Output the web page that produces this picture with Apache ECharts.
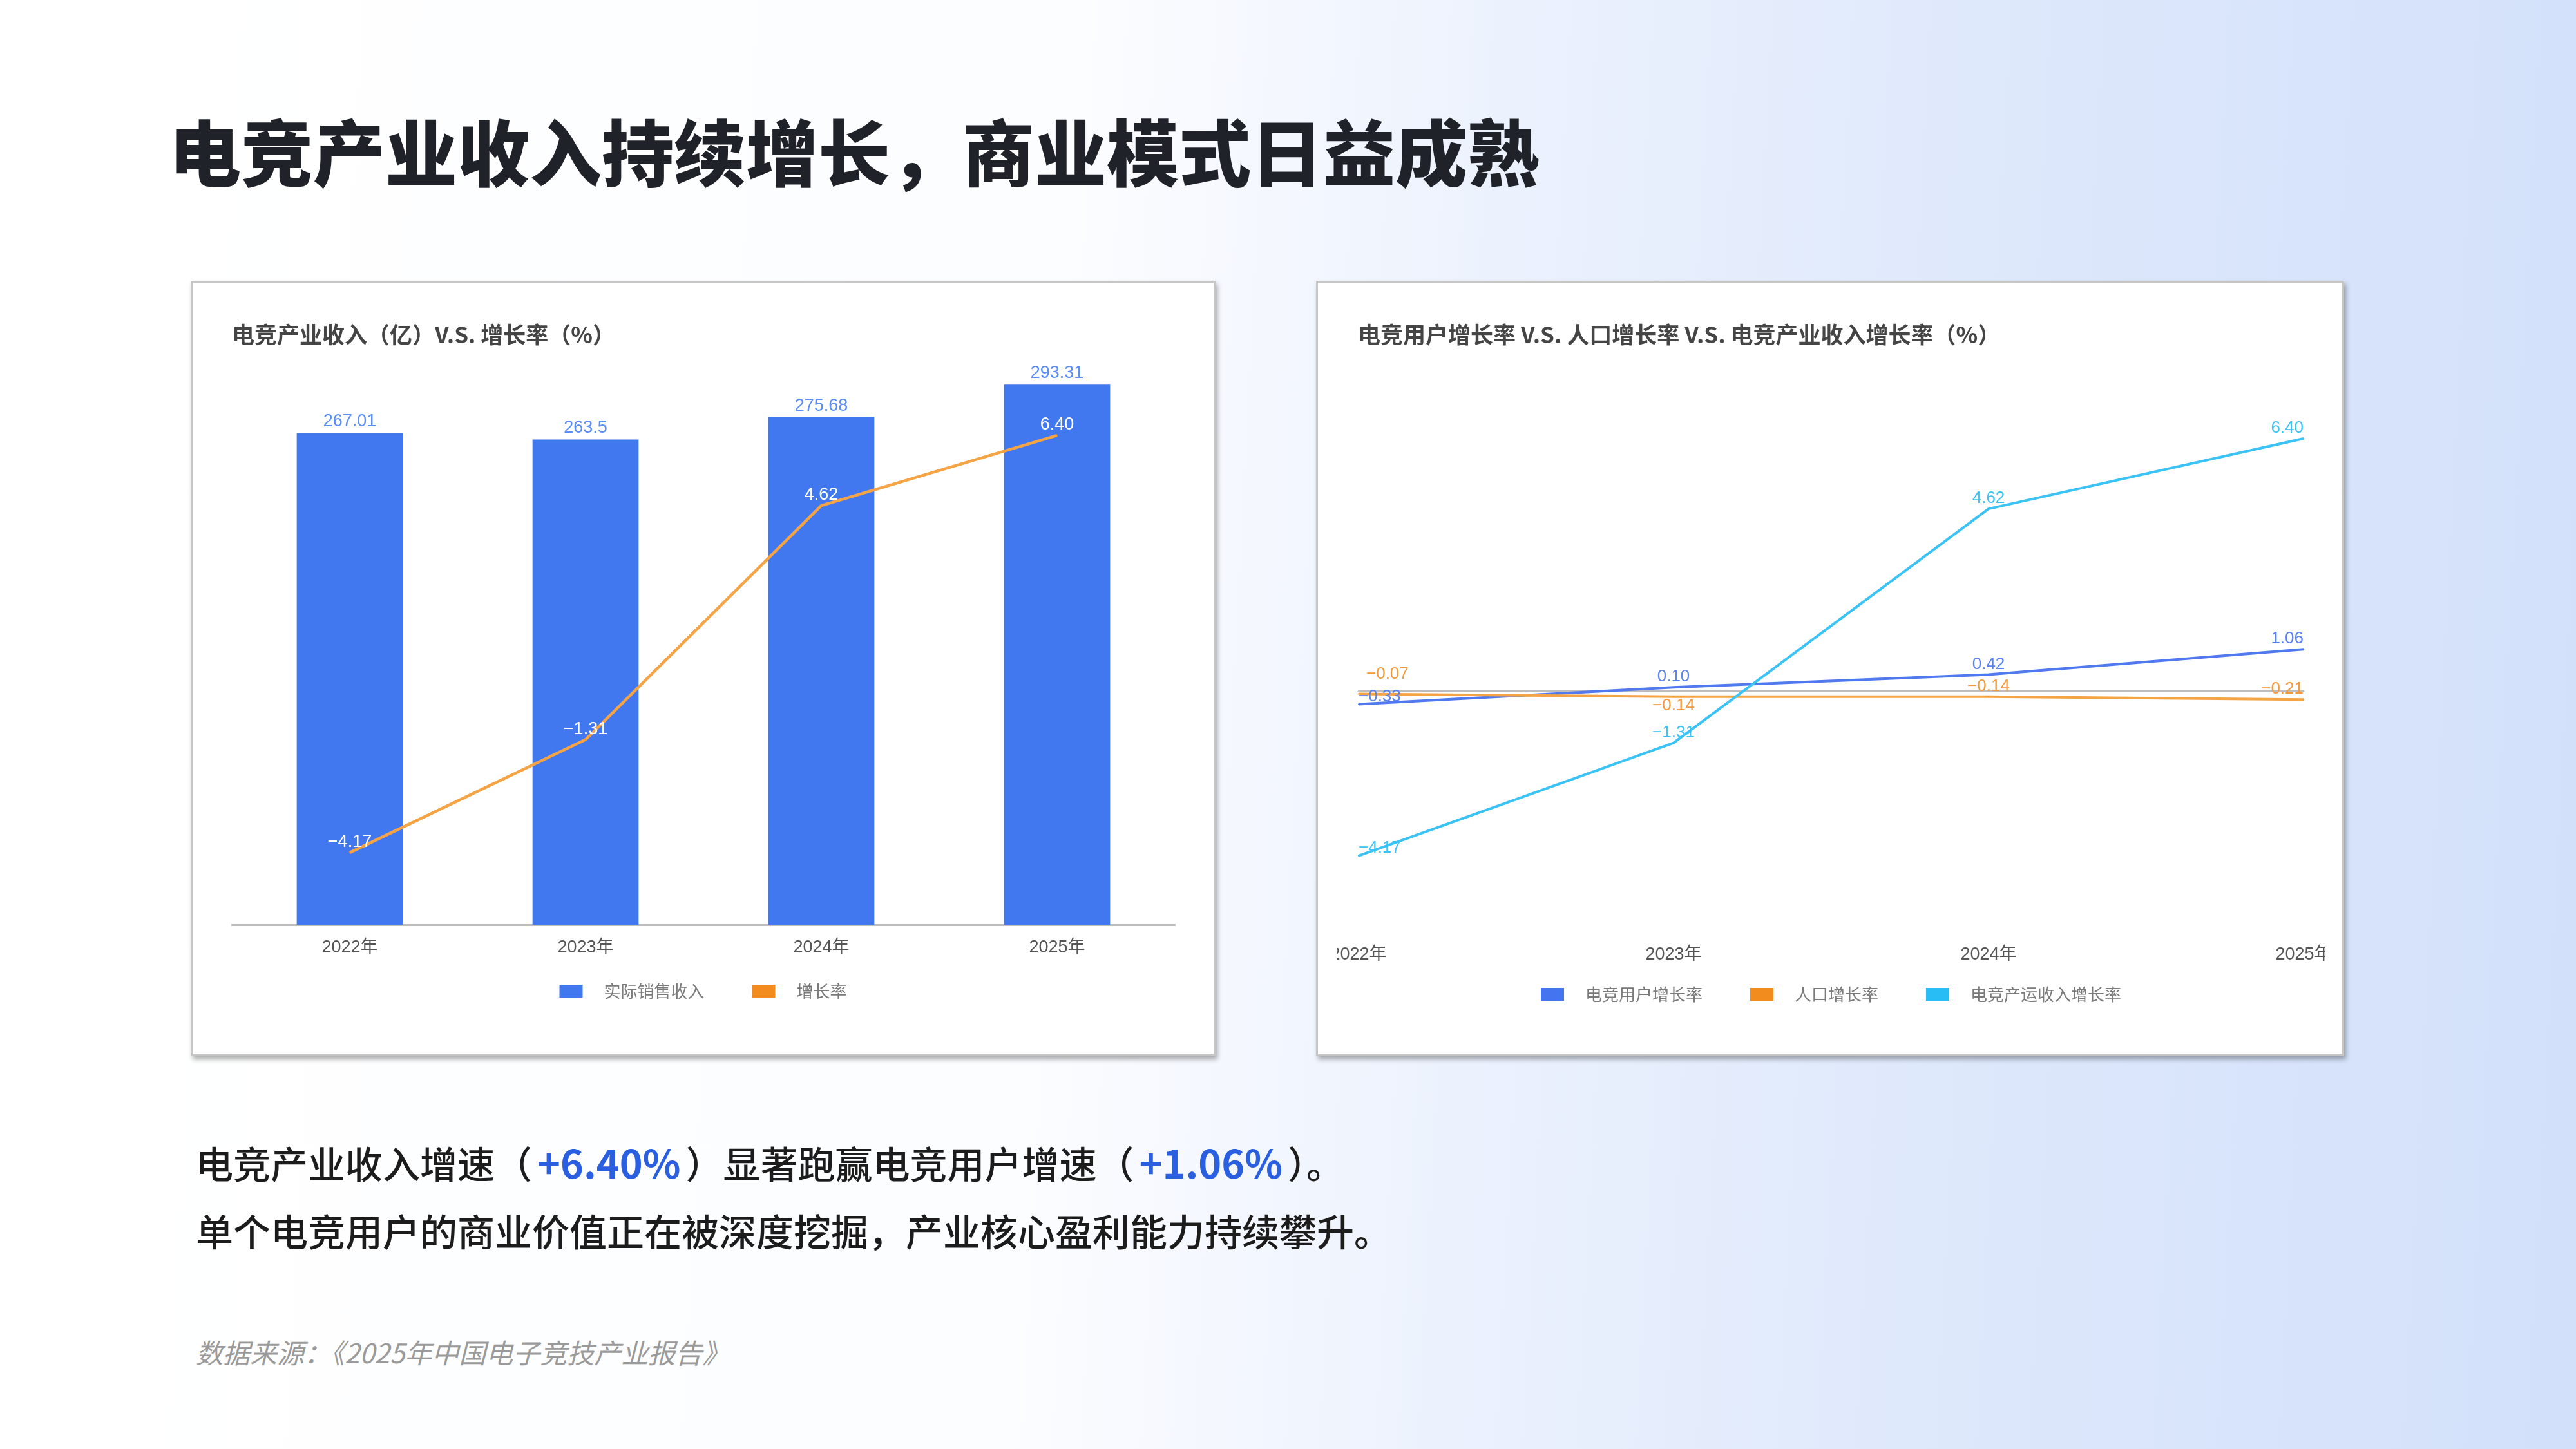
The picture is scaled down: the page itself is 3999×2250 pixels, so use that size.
<!DOCTYPE html>
<html>
<head>
<meta charset="utf-8">
<title>电竞产业收入持续增长</title>
<script src="https://cdn.jsdelivr.net/npm/echarts@6/dist/echarts.min.js"></script>
<style>
  html, body { margin: 0; padding: 0; }
  body {
    width: 3999px; height: 2250px; position: relative; overflow: hidden;
    background: linear-gradient(93deg, #ffffff 0%, #fcfdff 40%, #ebf1fd 58%, #dce7fb 78%, #d2e0fa 100%);
    font-family: 'Noto Sans CJK SC', 'Noto Sans', sans-serif;
  }
  .title {
    position: absolute; left: 262px; top: 176px; margin: 0;
    font-size: 112px; line-height: 112px; font-weight: 900; color: #1f2329;
    white-space: nowrap;
  }
  .panel {
    position: absolute; top: 436px; height: 1204px;
    box-sizing: border-box; background: #fff;
    border: 3px solid #c6c6c6;
    box-shadow: 3px 5px 7px rgba(0, 0, 0, 0.32);
    overflow: hidden;
  }
  #panelL { left: 296px; width: 1591px; }
  #panelR { left: 2043px; width: 1596px; }
  #chartL { position: absolute; left: 0; top: 0; width: 1585px; height: 1198px; }
  #chartR { position: absolute; left: 30px; top: 0; width: 1533px; height: 1198px; }
  .desc {
    position: absolute; left: 304px; top: 1751px; margin: 0;
    font-size: 58px; line-height: 105px; color: #1c1c1c; font-weight: 500;
    white-space: nowrap;
  }
  .desc b { color: #2a5fe0; font-weight: 700; font-size: 61px; margin: 0 8px; }
  .source {
    position: absolute; left: 304px; top: 2074px; margin: 0;
    font-size: 42px; line-height: 50px; color: #9a9a9a; font-style: italic;
    white-space: nowrap;
  }
</style>
</head>
<body>
<h1 class="title">电竞产业收入持续增长，商业模式日益成熟</h1>
<div class="panel" id="panelL"><div id="chartL"></div></div>
<div class="panel" id="panelR"><div id="chartR"></div></div>
<p class="desc">电竞产业收入增速（<b>+6.40%</b>）显著跑赢电竞用户增速（<b>+1.06%</b>）。<br>单个电竞用户的商业价值正在被深度挖掘，产业核心盈利能力持续攀升。</p>
<p class="source">数据来源：《2025年中国电子竞技产业报告》</p>
<script>
// 数据
const years = ['2022年', '2023年', '2024年', '2025年']
const revenue = [267.01, 263.5, 275.68, 293.31]
const revenueGrowth = [-4.17, -1.31, 4.62, 6.40]
const userGrowth = [-0.33, 0.10, 0.42, 1.06]
const popGrowth = [-0.07, -0.14, -0.14, -0.21]

const FONT = "'Liberation Sans', 'Noto Sans CJK SC', sans-serif"
const CJK = "'Noto Sans CJK SC', sans-serif"

function fmt (v) {
  return (v < 0 ? '\u2212' : '') + Math.abs(v).toFixed(2)
}

function xAxisOf (gap, margin) {
  return {
    type: 'category',
    data: years,
    boundaryGap: gap,
    axisLine: {lineStyle: {color: '#bdbdbd', width: 3}},
    axisTick: {show: false},
    axisLabel: {color: '#555', fontSize: 27, fontFamily: FONT, margin: margin}
  }
}

function legendOf (top, names) {
  return {
    top: top,
    left: 'center',
    itemWidth: 36,
    itemHeight: 20,
    itemGap: 74,
    icon: 'rect',
    textStyle: {color: '#7a7a7a', fontSize: 26, fontFamily: CJK, padding: [0, 0, 0, 28]},
    data: names
  }
}

// 左图：收入 + 增长率
let chartL = echarts.init(document.getElementById('chartL'))
chartL.setOption({
  animation: false,
  title: {
    text: '电竞产业收入（亿）V.S. 增长率（%）',
    left: 56,
    top: 58,
    textStyle: {fontSize: 35, fontWeight: 'bold', color: '#454545', fontFamily: CJK}
  },
  legend: legendOf(1082, ['实际销售收入', '增长率']),
  grid: {left: 61, right: 60, top: 139, bottom: 201, outerBoundsMode: 'none'},
  xAxis: xAxisOf(true, 22),
  yAxis: [
    {type: 'value', min: 0, max: 300, show: false, splitLine: {show: false}},
    {type: 'value', min: -6, max: 8, show: false, splitLine: {show: false}}
  ],
  series: [
    {
      name: '实际销售收入',
      type: 'bar',
      data: revenue,
      barWidth: '45%',
      itemStyle: {color: '#4178f0'},
      label: {show: true, position: 'top', distance: 4, color: '#5b8df6', fontSize: 27, fontFamily: FONT}
    },
    {
      name: '增长率',
      type: 'line',
      yAxisIndex: 1,
      data: revenueGrowth,
      symbol: 'circle',
      symbolSize: 2,
      itemStyle: {color: '#f28c1e'},
      lineStyle: {color: '#f5a445', width: 4.5},
      label: {show: true, position: 'top', distance: 2, color: '#fff', fontSize: 27, fontFamily: FONT,
        formatter: p => fmt(p.value)}
    }
  ]
})

// 右图：三条增长率
const userLabels = [
  {position: 'top', align: 'left', distance: -2},
  {position: 'top', distance: 2},
  {position: 'top', distance: 2},
  {position: 'top', align: 'right', distance: 2}
]
const popLabels = [
  {position: 'top', align: 'left', distance: 17, offset: [12, 0]},
  {position: 'bottom', distance: 0},
  {position: 'top', distance: 2},
  {position: 'top', align: 'right', distance: 2}
]
const revLabels = [
  {position: 'top', align: 'left', distance: -2},
  {position: 'top', distance: 2},
  {position: 'top', distance: 2},
  {position: 'top', align: 'right', distance: 2}
]

function withLabels (values, labels) {
  return values.map((v, i) => ({value: v, label: labels[i]}))
}

function lineSeries (name, values, labels, iconColor, lineColor, textColor) {
  return {
    name: name,
    type: 'line',
    data: withLabels(values, labels),
    symbol: 'circle',
    symbolSize: 2,
    itemStyle: {color: iconColor},
    lineStyle: {color: lineColor, width: 4},
    label: {show: true, color: textColor, fontSize: 26, fontFamily: FONT, formatter: p => fmt(p.value)}
  }
}

let chartR = echarts.init(document.getElementById('chartR'))
chartR.setOption({
  animation: false,
  title: {
    text: '电竞用户增长率 V.S. 人口增长率 V.S. 电竞产业收入增长率（%）',
    left: 27,
    top: 58,
    textStyle: {fontSize: 35, fontWeight: 'bold', color: '#454545', fontFamily: CJK}
  },
  legend: legendOf(1087, ['电竞用户增长率', '人口增长率', '电竞产运收入增长率']),
  grid: {left: 33, right: 33, top: 144, bottom: 196, outerBoundsMode: 'none'},
  xAxis: xAxisOf(false, 28),
  yAxis: {type: 'value', min: -6, max: 8, show: false, splitLine: {show: false}},
  series: [
    lineSeries('电竞用户增长率', userGrowth, userLabels, '#4474f0', '#5079f0', '#5a82f2'),
    lineSeries('人口增长率', popGrowth, popLabels, '#f28c1e', '#f5a445', '#f29a3a'),
    lineSeries('电竞产运收入增长率', revenueGrowth, revLabels, '#29bdf5', '#3cc3f5', '#3cc3f5')
  ]
})
</script>
</body>
</html>
